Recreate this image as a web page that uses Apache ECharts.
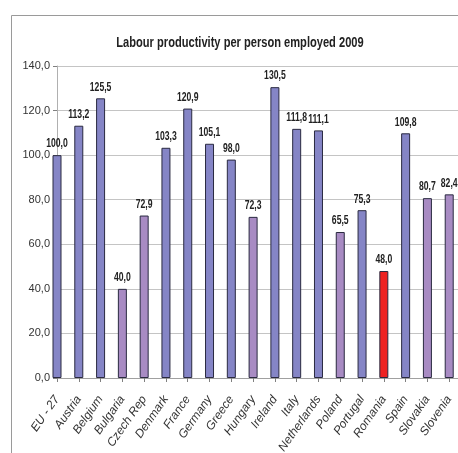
<!DOCTYPE html>
<html><head><meta charset="utf-8">
<script src="https://cdn.jsdelivr.net/npm/echarts@6/dist/echarts.min.js"></script>
<style>html,body{margin:0;padding:0;background:#fff}#c{width:458px;height:453px}</style>
</head><body><div id="c"></div>
<script>
const titleText = 'Labour productivity per person employed 2009';
const categories = ['EU - 27','Austria','Belgium','Bulgaria','Czech Rep','Denmark','France','Germany','Greece','Hungary','Ireland','Italy','Netherlands','Poland','Portugal','Romania','Spain','Slovakia','Slovenia','UK'];
const values = [100.0,113.2,125.5,40.0,72.9,103.3,120.9,105.1,98.0,72.3,130.5,111.8,111.1,65.5,75.3,48.0,109.8,80.7,82.4,107.6];
const groups = ['old','old','old','new','new','old','old','old','old','new','old','old','old','new','old','ro','old','new','new','old'];
const yTicks = [0,20,40,60,80,100,120,140];

const colorMap = {old:'#8585C6', new:'#A88BC3', ro:'#EE2222'};
const fmt = v => Number(v).toFixed(1).replace('.', ',');
const font = "'Liberation Sans',Arial,sans-serif";

const chart = echarts.init(document.getElementById('c'), null, {renderer:'canvas'});
chart.setOption({
  animation:false,
  graphic:[
    {type:'rect',shape:{x:11.5,y:15.5,width:470,height:460},
      style:{fill:null,stroke:'#9a9a9a',lineWidth:1},silent:true,z:-10},
    {type:'text',x:240,y:43,scaleX:0.74,silent:true,
      style:{text:titleText,textAlign:'center',textVerticalAlign:'middle',
        font:"bold 15px "+font,fill:'#222'}}
  ],
  grid:{left:57,width:414,top:66,bottom:75,containLabel:false,outerBoundsMode:'none'},
  xAxis:{type:'category',data:categories,boundaryGap:false,
    axisLine:{show:true,lineStyle:{color:'#a0a0a0'}},
    axisTick:{show:true,alignWithLabel:true,length:4,lineStyle:{color:'#808080'}},
    axisLabel:{rotate:55,interval:0,margin:19,fontFamily:font,fontSize:12,color:'#333',fontStyle:'italic'}},
  yAxis:{type:'value',min:yTicks[0],max:yTicks[yTicks.length-1],interval:20,
    axisLine:{show:true,lineStyle:{color:'#b0b0b0'}},
    axisTick:{show:true,length:4,lineStyle:{color:'#808080'}},
    splitLine:{show:true,lineStyle:{color:'#c4c4c4'}},
    axisLabel:{formatter:v=>fmt(v),margin:7,fontFamily:font,fontSize:11,color:'#333'}},
  series:[
    {type:'bar',barWidth:9,clip:false,
      data:values.map((v,i)=>({value:v,itemStyle:{color:colorMap[groups[i]]}})),
      itemStyle:{borderColor:'#2a2a40',borderWidth:1}},
    {type:'custom',clip:false,silent:true,
      data:values.map((v,i)=>[i,v]),
      renderItem:function(params,api){
        const p = api.coord([api.value(0), api.value(1)]);
        return {type:'text',x:p[0],y:p[1]-5,scaleX:0.72,
          style:{text:fmt(api.value(1)),textAlign:'center',textVerticalAlign:'bottom',
            font:"bold 12px "+font,fill:'#222'}};
      }}
  ]
});
</script></body></html>
